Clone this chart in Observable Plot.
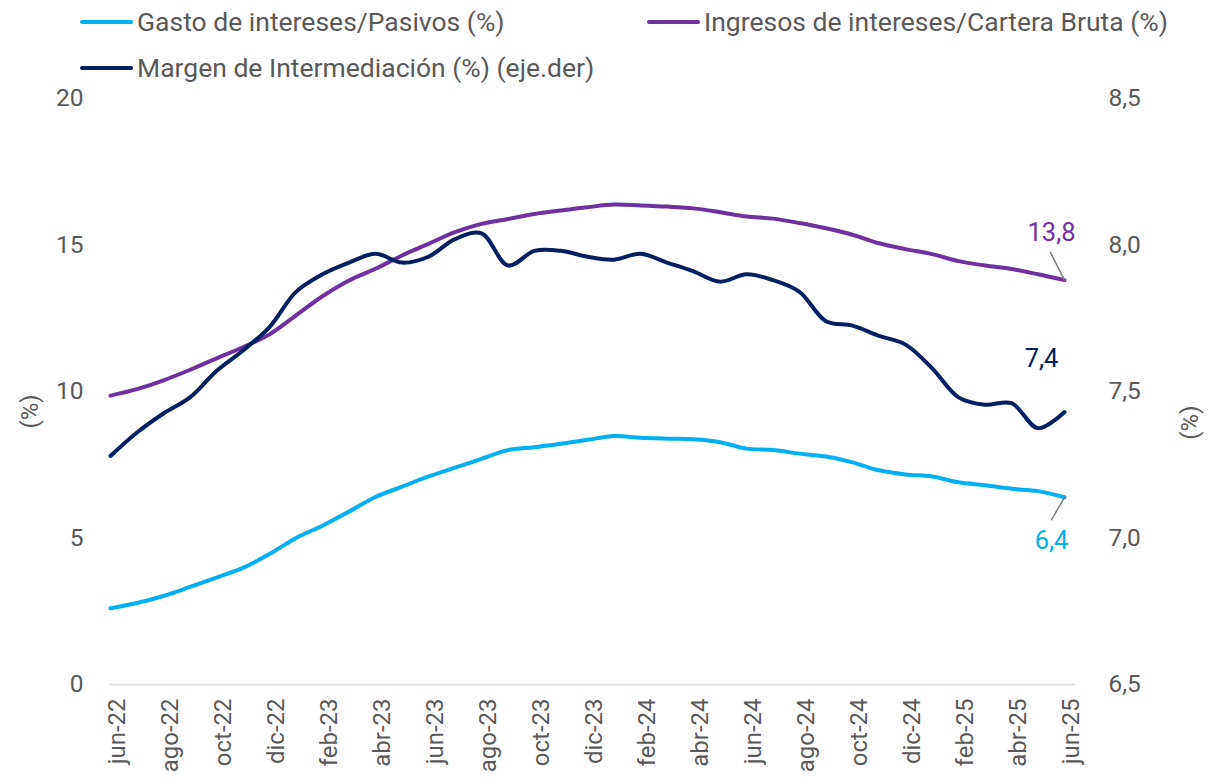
<!DOCTYPE html>
<html>
<head>
<meta charset="utf-8">
<script src="https://cdn.jsdelivr.net/npm/d3@7"></script>
<script src="https://cdn.jsdelivr.net/npm/@observablehq/plot@0.6"></script>
<style>
  html, body { margin: 0; padding: 0; background: #fff; }
  #wrap { position: relative; width: 1211px; height: 781px; overflow: hidden; font-family: Roboto, "Noto Sans", sans-serif; color: #595959; }
  .item { position: absolute; height: 30px; display: flex; align-items: center; font-size: 26.5px; line-height: 30px; white-space: nowrap; }
  .sw { width: 53px; height: 4px; border-radius: 2px; margin-right: 4px; }
  #chart { position: absolute; left: 0; top: 90px; }
</style>
</head>
<body>
<div id="wrap">
  <div class="item" style="left:80px; top:7px;"><span class="sw" style="background:#00B0F0"></span>Gasto de intereses/Pasivos (%)</div>
  <div class="item" style="left:647px; top:7px;"><span class="sw" style="background:#7030A0"></span>Ingresos de intereses/Cartera Bruta (%)</div>
  <div class="item" style="left:80px; top:53px;"><span class="sw" style="background:#002060"></span>Margen de Intermediación (%) (eje.der)</div>
  <div id="chart"></div>
</div>
<script>
const months = ["jun-22","jul-22","ago-22","sep-22","oct-22","nov-22","dic-22","ene-23","feb-23","mar-23","abr-23","may-23",
  "jun-23","jul-23","ago-23","sep-23","oct-23","nov-23","dic-23","ene-24","feb-24","mar-24","abr-24","may-24",
  "jun-24","jul-24","ago-24","sep-24","oct-24","nov-24","dic-24","ene-25","feb-25","mar-25","abr-25","may-25","jun-25"];

const gasto = [2.60,2.78,3.02,3.33,3.65,3.98,4.45,5.00,5.42,5.90,6.40,6.75,
  7.10,7.40,7.70,8.00,8.10,8.22,8.35,8.48,8.42,8.39,8.37,8.27,
  8.05,8.00,7.88,7.78,7.58,7.31,7.17,7.10,6.90,6.80,6.68,6.60,6.39];

const ingresos = [9.86,10.08,10.38,10.74,11.13,11.51,11.95,12.60,13.25,13.79,14.19,14.64,
  15.04,15.44,15.72,15.89,16.06,16.18,16.29,16.38,16.35,16.31,16.25,16.12,
  15.97,15.90,15.75,15.57,15.35,15.06,14.86,14.69,14.45,14.30,14.18,14.00,13.80];

const margen = [7.28,7.36,7.425,7.48,7.57,7.64,7.72,7.84,7.90,7.94,7.97,7.94,
  7.96,8.02,8.04,7.93,7.98,7.98,7.96,7.95,7.97,7.94,7.91,7.875,
  7.90,7.88,7.84,7.74,7.725,7.69,7.66,7.58,7.48,7.455,7.46,7.375,7.43];

const leftTicks = [0, 5, 10, 15, 20];
const rightTicks = [6.5, 7.0, 7.5, 8.0, 8.5];
const xTicks = d3.range(0, months.length, 2);

const colors = {gasto: "#00B0F0", ingresos: "#7030A0", margen: "#002060"};
const fmt = v => v.toFixed(1).replace(".", ",");
// right axis (6.5–8.5) mapped onto left axis (0–20)
const toLeft = v => (v - 6.5) * 10;
const fromLeft = t => t / 10 + 6.5;

const data = months.map((m, i) => ({i, m, gasto: gasto[i], ingresos: ingresos[i], margen: margen[i]}));
const last = [data[data.length - 1]];
const stem = {draw(context, l) { context.moveTo(0, 0); context.lineTo(0, -l); }};

const chart = Plot.plot({
  width: 1211,
  height: 691,
  marginTop: 8,
  marginBottom: 97,
  marginLeft: 110,
  marginRight: 136,
  style: {fontFamily: "Roboto, 'Noto Sans', sans-serif", fontSize: "24px", color: "#595959", background: "white", overflow: "visible"},
  x: {domain: [0, months.length - 1], range: [110, 1064]},
  y: {domain: [0, 20]},
  marks: [
    Plot.ruleY([0], {stroke: "#d9d9d9", strokeWidth: 1.5}),
    Plot.axisY({anchor: "left", ticks: leftTicks, tickFormat: d => String(d), tickSize: 0, tickPadding: 27, label: null, fontSize: 24.5, fill: "#595959"}),
    Plot.axisY({anchor: "right", ticks: rightTicks.map(toLeft), tickFormat: t => fmt(fromLeft(t)), tickSize: 0, tickPadding: 33, label: null, fontSize: 24.5, fill: "#595959"}),
    Plot.axisX({ticks: xTicks, tickFormat: i => months[i], tickRotate: -90, tickSize: 0, tickPadding: 14, label: null, fontSize: 24, fill: "#595959", dx: 7}),
    Plot.text(["(%)"], {frameAnchor: "left", dx: -80, dy: 37, rotate: -90, fill: "#595959", fontSize: 24}),
    Plot.text(["(%)"], {frameAnchor: "right", dx: 115, dy: 14, rotate: -90, fill: "#595959", fontSize: 24}),
    Plot.line(data, {x: "i", y: "gasto", stroke: colors.gasto, strokeWidth: 4, curve: "catmull-rom"}),
    Plot.line(data, {x: "i", y: "ingresos", stroke: colors.ingresos, strokeWidth: 4, curve: "catmull-rom"}),
    Plot.line(data, {x: "i", y: d => toLeft(d.margen), stroke: colors.margen, strokeWidth: 4, curve: "catmull-rom"}),
    Plot.vector(last, {x: "i", y: "ingresos", length: 31, rotate: -27, anchor: "start", shape: stem, stroke: "#808080", strokeWidth: 1.5}),
    Plot.vector(last, {x: "i", y: "gasto", length: 26, rotate: 210, anchor: "start", shape: stem, stroke: "#808080", strokeWidth: 1.5}),
    Plot.text(last, {x: "i", y: "ingresos", text: d => fmt(d.ingresos), dx: -13, dy: -47, fill: colors.ingresos, fontSize: 25.5}),
    Plot.text(last, {x: "i", y: d => toLeft(d.margen), text: d => fmt(d.margen), dx: -23, dy: -53, fill: colors.margen, fontSize: 25.5}),
    Plot.text(last, {x: "i", y: "gasto", text: d => fmt(d.gasto), dx: -13, dy: 44, fill: colors.gasto, fontSize: 25.5})
  ]
});
document.getElementById("chart").appendChild(chart);
</script>
</body>
</html>
